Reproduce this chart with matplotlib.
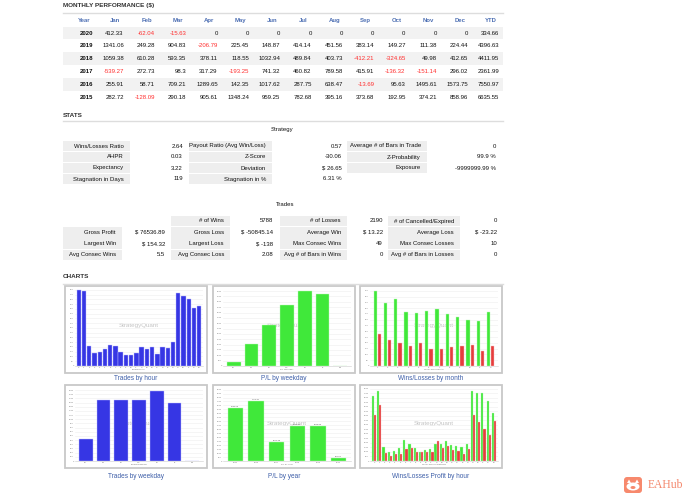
import numpy as np
import matplotlib
matplotlib.use('Agg')
import matplotlib.pyplot as plt
from matplotlib.patches import Rectangle, FancyBboxPatch, Ellipse, Polygon

plt.rcParams['font.family'] = ['Liberation Sans', 'DejaVu Sans']

W, H = 694, 501

# ---- monthly performance table ----
months = ['Jan', 'Feb', 'Mar', 'Apr', 'May', 'Jun', 'Jul', 'Aug', 'Sep', 'Oct', 'Nov', 'Dec']
years = ['2020', '2019', '2018', '2017', '2016', '2015']
monthly = [
    [412.33, -62.04, -15.63, 0, 0, 0, 0, 0, 0, 0, 0, 0],
    [1341.06, 249.28, 904.83, -206.79, 225.45, 148.87, 414.14, 451.56, 383.14, 149.27, 111.38, 224.44],
    [1059.38, 610.28, 593.35, 378.11, 118.55, 1032.94, 489.84, 403.73, -412.21, -324.65, 49.98, 412.65],
    [-539.27, 272.73, 98.3, 317.29, -193.25, 741.32, 460.82, 789.58, 415.91, -136.32, -151.14, 296.02],
    [255.91, 58.71, 709.21, 1289.65, 142.35, 1017.62, 287.75, 638.47, -13.69, 95.63, 1495.61, 1573.75],
    [282.72, -128.09, 290.18, 905.61, 1348.24, 959.25, 782.68, 395.16, 373.68, 192.95, 374.21, 858.96],
]
ytd = [334.66, 4396.63, 4411.95, 2361.99, 7550.97, 6635.55]

# ---- stats ----
strategy_rows = [
    [('Wins/Losses Ratio', '2.64'), ('Payout Ratio (Avg Win/Loss)', '0.57'), ('Average # of Bars in Trade', '0')],
    [('AHPR', '0.03'), ('Z-Score', '-30.06'), ('Z-Probability', '99.9 %')],
    [('Expectancy', '3.22'), ('Deviation', '$ 26.65'), ('Exposure', '-9999999.99 %')],
    [('Stagnation in Days', '119'), ('Stagnation in %', '6.31 %'), None],
]
trade_rows = [
    [None, ('# of Wins', '5788'), ('# of Losses', '2190'), ('# of Cancelled/Expired', '0')],
    [('Gross Profit', '$ 76536.89'), ('Gross Loss', '$ -50845.14'), ('Average Win', '$ 13.22'), ('Average Loss', '$ -23.22')],
    [('Largest Win', '$ 154.32'), ('Largest Loss', '$ -138'), ('Max Consec Wins', '49'), ('Max Consec Losses', '10')],
    [('Avg Consec Wins', '5.5'), ('Avg Consec Loss', '2.08'), ('Avg # of Bars in Wins', '0'), ('Avg # of Bars in Losses', '0')],
]

# ---- charts ----
hours = list(range(24))
trades_hour = [795, 785, 210, 135, 150, 175, 220, 210, 145, 115, 115, 135,
               200, 180, 205, 125, 195, 185, 250, 770, 735, 710, 610, 630]
weekdays = ['Su', 'Mo', 'Tu', 'We', 'Th', 'Fr', 'Sa']
trades_weekday = [518, 1465, 1458, 1465, 1672, 1399, 0]
pl_weekday = [371, 2100, 3800, 5745, 6980, 6700, 0]
month_nums = list(range(1, 13))
wins_month = [645, 548, 579, 465, 456, 471, 491, 451, 425, 399, 391, 468]
losses_month = [274, 222, 200, 177, 202, 145, 151, 162, 177, 185, 128, 174]
pl_years = ['2015', '2016', '2017', '2018', '2019', '2020']
pl_year = [6635.55, 7550.97, 2361.99, 4411.95, 4396.63, 334.66]
win_profit_hour = [7160, 7715, 1590, 970, 1070, 1490, 2320, 1940, 1420, 970, 1210, 1385,
                   1835, 1900, 2250, 1765, 1625, 1590, 1940, 7715, 7540, 7510, 6610, 5330]
loss_profit_hour = [5050, 6160, 900, 555, 795, 795, 1315, 1420, 970, 970, 970, 970,
                    2180, 1420, 1660, 1210, 1105, 760, 1280, 5120, 4290, 3565, 2870, 4395]

BLUE = '#3636e4'
GREEN = '#40e83a'
RED = '#e63d3d'
GRAY_CELL = '#eeeeee'
TXT = '#111111'
FS = 4.3

fig = plt.figure(figsize=(6.94, 5.01), dpi=100)
page = fig.add_axes([0, 0, 1, 1])
page.set_xlim(0, W)
page.set_ylim(H, 0)
page.axis('off')


def section(y, text, line_y):
    page.text(63, y, text, fontsize=4.6, fontweight='bold', color='#333333', va='center')
    page.plot([63, 503], [line_y, line_y], color='#dddddd', lw=1)


# monthly performance
section(5.5, 'MONTHLY PERFORMANCE ($)', 12.5)
centers = np.linspace(84, 491, 14)
headers = ['Year'] + months + ['YTD']
for cx, h in zip(centers, headers):
    page.text(cx, 20.5, h, fontsize=FS, color='#4d6fb3', ha='center', va='center', fontweight='bold')
for i, yr in enumerate(years):
    ry = 33 + 12.8 * i
    if i % 2 == 0:
        page.add_patch(Rectangle((63, ry - 6.3), 440, 12.6, fc='#f2f2f2', ec='none'))
    page.text(centers[0] + 9, ry, yr, fontsize=FS, color=TXT, ha='right', va='center', fontweight='bold')
    vals = monthly[i] + [ytd[i]]
    for cx, v in zip(centers[1:], vals):
        col = '#ff2e2e' if v < 0 else TXT
        page.text(cx + 8.5, ry, f'{v:g}', fontsize=FS, color=col, ha='right', va='center')

# stats
section(115, 'STATS', 120.5)
page.text(282, 129, 'Strategy', fontsize=FS, color=TXT, ha='center', va='center')
s_label_cells = [(63, 130), (189, 272), (347, 427)]
s_value_right = [183, 342, 496]
for r, row in enumerate(strategy_rows):
    ry = 146 + 11 * r
    for c, cell in enumerate(row):
        if cell is None:
            continue
        x0, x1 = s_label_cells[c]
        page.add_patch(Rectangle((x0, ry - 5), x1 - x0, 10, fc=GRAY_CELL, ec='none'))
        page.text(x1 - 6, ry, cell[0], fontsize=FS, color=TXT, ha='right', va='center')
        page.text(s_value_right[c], ry, cell[1], fontsize=FS, color=TXT, ha='right', va='center')

page.text(285, 205, 'Trades', fontsize=FS, color=TXT, ha='center', va='center')
t_label_cells = [(63, 122), (171, 230), (280, 347), (388, 460)]
t_value_right = [165, 273, 383, 497]
for r, row in enumerate(trade_rows):
    ry = 221 + 11.3 * r
    for c, cell in enumerate(row):
        if cell is None:
            continue
        x0, x1 = t_label_cells[c]
        page.add_patch(Rectangle((x0, ry - 5.2), x1 - x0, 10.4, fc=GRAY_CELL, ec='none'))
        page.text(x1 - 6, ry, cell[0], fontsize=FS, color=TXT, ha='right', va='center')
        page.text(t_value_right[c], ry, cell[1], fontsize=FS, color=TXT, ha='right', va='center')

# charts
section(276, 'CHARTS', 283.5)


def chart_axes(x0, y0, x1, y1, title, title_y, xlabel):
    page.add_patch(Rectangle((x0, y0), x1 - x0, y1 - y0, fill=False, ec='#c8c8c8', lw=1.3))
    page.text((x0 + x1) / 2, title_y, title, fontsize=4.7, color='#3d5ea8', ha='center', va='center')
    ax = fig.add_axes([(x0 + 10) / W, 1 - (y1 - 7) / H, (x1 - x0 - 14) / W, (y1 - y0 - 10) / H])
    ax.grid(axis='y', color='#eeeeee', lw=0.4)
    ax.set_axisbelow(True)
    ax.tick_params(labelsize=1.6, length=0, pad=0.8, colors='#777777')
    for s in ax.spines.values():
        s.set_visible(False)
    ax.spines['bottom'].set_visible(True)
    ax.spines['bottom'].set_color('#cccccc')
    ax.spines['bottom'].set_linewidth(0.4)
    ax.set_xlabel(xlabel, fontsize=1.6, labelpad=0.6, color='#777777')
    ax.text(0.5, 0.52, 'StrategyQuant', transform=ax.transAxes, ha='center', va='center',
            color='#c4c4c4', fontsize=4.5, zorder=0.5)
    return ax


# Trades by hour
ax = chart_axes(65, 286, 207, 373, 'Trades by hour', 378, 'Trades/Hours')
ax.bar(hours, trades_hour, width=0.82, color=BLUE, ec='#c0c0ff', lw=0.3, zorder=2)
ax.set_xticks(hours)
ax.set_xlim(-0.7, 23.7)
ax.set_ylim(0, 810)
ax.set_yticks(np.arange(0, 801, 50))

# P/L by weekday
ax = chart_axes(213, 286, 355, 373, 'P/L by weekday', 378, 'P/L Weekday')
ax.bar(weekdays, pl_weekday, width=0.78, color=GREEN, ec='#c0f7bc', lw=0.3, zorder=2)
ax.set_xlim(-0.6, 6.6)
ax.set_ylim(0, 7200)
ax.set_yticks(np.arange(0, 7001, 500))

# Wins/Losses by month
ax = chart_axes(360, 286, 502, 373, 'Wins/Losses by month', 378, 'Wins/Losses Month')
mx = np.arange(len(month_nums))
ax.bar(mx - 0.2, wins_month, width=0.32, color=GREEN, ec='#c0f7bc', lw=0.3, zorder=2)
ax.bar(mx + 0.2, losses_month, width=0.32, color=RED, ec='#f7c0c0', lw=0.3, zorder=2)
ax.set_xticks(mx, [str(m) for m in month_nums])
ax.set_xlim(-0.7, 11.7)
ax.set_ylim(0, 665)
ax.set_yticks(np.arange(0, 651, 50))

# Trades by weekday
ax = chart_axes(65, 385, 207, 468, 'Trades by weekday', 477, 'Trades/Weekday')
ax.bar(weekdays, trades_weekday, width=0.78, color=BLUE, ec='#c0c0ff', lw=0.3, zorder=2)
ax.set_xlim(-0.6, 6.6)
ax.set_ylim(0, 1750)
ax.set_yticks(np.arange(0, 1701, 100))

# P/L by year
ax = chart_axes(213, 385, 355, 468, 'P/L by year', 477, 'P/L by Year')
bars = ax.bar(pl_years, pl_year, width=0.75, color=GREEN, ec='#c0f7bc', lw=0.3, zorder=2)
for b, v in zip(bars, pl_year):
    ax.text(b.get_x() + b.get_width() / 2, v + 150, f'{v:g}', fontsize=1.6, ha='center',
            va='bottom', color='#555555')
ax.set_xlim(-0.6, 5.6)
ax.set_ylim(0, 9200)
ax.set_yticks(np.arange(0, 9001, 500))

# Wins/Losses Profit by hour
ax = chart_axes(360, 385, 502, 468, 'Wins/Losses Profit by hour', 477, 'Wins/Losses Profit/Hour')
hx = np.arange(len(hours))
ax.bar(hx - 0.21, win_profit_hour, width=0.4, color=GREEN, ec='#c0f7bc', lw=0.25, zorder=2)
ax.bar(hx + 0.21, loss_profit_hour, width=0.4, color=RED, ec='#f7c0c0', lw=0.25, zorder=2)
ax.set_xticks(hx, [str(h) for h in hours])
ax.set_xlim(-0.8, 23.8)
ax.set_ylim(0, 8100)
ax.set_yticks(np.arange(0, 8001, 500))

# EAHub logo
page.add_patch(FancyBboxPatch((624, 477), 18, 16, boxstyle='round,pad=0,rounding_size=3',
                              fc='#f7896d', ec='none'))
page.add_patch(Polygon([[627, 483], [629, 479.5], [631, 483]], fc='white', ec='none'))
page.add_patch(Polygon([[635, 483], [637, 479.5], [639, 483]], fc='white', ec='none'))
page.add_patch(Ellipse((633, 486.5), 13, 8, fc='white', ec='none'))
page.add_patch(Ellipse((633, 487.5), 5, 3, fc='#f7896d', ec='none'))
page.text(648, 485.5, 'EAHub', fontfamily='Liberation Serif', fontsize=8.4, color='#f4876c', va='center')

fig.savefig('out.png', dpi=100)
